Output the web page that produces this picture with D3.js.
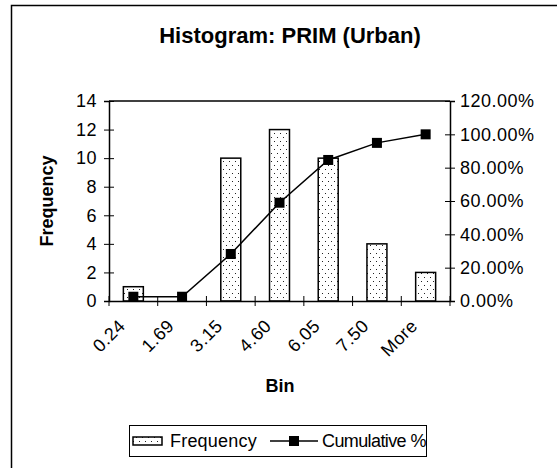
<!DOCTYPE html>
<html>
<head>
<meta charset="utf-8">
<script src="https://cdn.jsdelivr.net/npm/d3@7"></script>
<style>
  body { margin: 0; background: #fff; }
  text { font-family: "Liberation Sans", Arial, sans-serif; fill: #000; }
</style>
</head>
<body>
<div class="grafico"></div>
<script>
// data
const bins = ["0.24", "1.69", "3.15", "4.60", "6.05", "7.50", "More"];
const frequency = [1, 0, 10, 12, 10, 4, 2];
const cumulative = [2.56, 2.56, 28.21, 58.97, 84.62, 94.87, 100.0];
const freqTicks = [0, 2, 4, 6, 8, 10, 12, 14];
const pctTicks = [0, 20, 40, 60, 80, 100, 120];

var width = 557, height = 468;
var plot = { left: 109, right: 450, top: 101, bottom: 301 };
var fs = 18, ls = 0.5;

let svg = d3.select(".grafico")
  .append("svg")
  .attr("width", width)
  .attr("height", height);

// dotted fill like the excel pattern
let pat = svg.append("defs").append("pattern")
  .attr("id", "dots")
  .attr("patternUnits", "userSpaceOnUse")
  .attr("width", 6).attr("height", 8);
pat.append("rect").attr("width", 6).attr("height", 8).attr("fill", "#fff");
pat.append("rect").attr("x", 1).attr("y", 1).attr("width", 1).attr("height", 1).attr("fill", "#222");
pat.append("rect").attr("x", 4).attr("y", 5).attr("width", 1).attr("height", 1).attr("fill", "#222");

// outer frame
svg.append("rect")
  .attr("x", 11.5).attr("y", 5.5)
  .attr("width", 600).attr("height", 600)
  .attr("fill", "none").attr("stroke", "#000").attr("stroke-width", 1.5);

svg.append("text")
  .attr("x", 290).attr("y", 43)
  .attr("text-anchor", "middle")
  .attr("font-size", 22).attr("font-weight", "bold")
  .text("Histogram: PRIM (Urban)");

const x = d3.scaleBand()
  .domain(bins)
  .range([plot.left, plot.right])
  .paddingInner(0.59)
  .paddingOuter(0.295);

const xCat = d3.scaleBand()
  .domain(bins)
  .range([plot.left, plot.right]);

const y = d3.scaleLinear().domain([0, 14]).range([plot.bottom, plot.top]);
const y2 = d3.scaleLinear().domain([0, 120]).range([plot.bottom, plot.top]);

// top border of plot area
svg.append("line")
  .attr("x1", plot.left).attr("x2", plot.right)
  .attr("y1", plot.top).attr("y2", plot.top)
  .attr("stroke", "#000").attr("stroke-width", 1.5);

// bars
svg.selectAll("rect.bar")
  .data(frequency)
  .enter().append("rect")
  .attr("class", "bar")
  .attr("x", (d, i) => x(bins[i]))
  .attr("y", d => y(d))
  .attr("width", x.bandwidth())
  .attr("height", d => y(0) - y(d))
  .attr("fill", "url(#dots)")
  .attr("stroke", "#000")
  .attr("stroke-width", 1.5);

// left axis
let yAxis = svg.append("g")
  .attr("transform", "translate(" + plot.left + ",0)")
  .call(d3.axisLeft(y).tickValues(freqTicks).tickSize(5).tickPadding(7).tickFormat(d3.format("d")));
yAxis.selectAll(".tick line").attr("x2", -5).attr("x1", 5);

// right axis
let y2Axis = svg.append("g")
  .attr("transform", "translate(" + plot.right + ",0)")
  .call(d3.axisRight(y2).tickValues(pctTicks).tickSize(5).tickPadding(5).tickFormat(d => d.toFixed(2) + "%"));
y2Axis.selectAll(".tick line").attr("x1", -5).attr("x2", 5);

// bottom axis, ticks at category edges
let xAxis = svg.append("g")
  .attr("transform", "translate(0," + plot.bottom + ")")
  .call(d3.axisBottom(xCat).tickSize(0).tickFormat(""));
xAxis.selectAll(".tick").remove();
xAxis.selectAll("line.edge")
  .data(bins.concat(["end"]))
  .enter().append("line")
  .attr("class", "edge")
  .attr("x1", (d, i) => plot.left + i * xCat.step())
  .attr("x2", (d, i) => plot.left + i * xCat.step())
  .attr("y1", -5).attr("y2", 5)
  .attr("stroke", "#000");

[yAxis, y2Axis, xAxis].forEach(g => {
  g.selectAll(".domain").attr("stroke", "#000").attr("stroke-width", 1.5);
  g.selectAll("text").attr("font-size", fs).attr("letter-spacing", ls)
    .attr("font-family", "Liberation Sans, Arial, sans-serif");
});

// rotated bin labels
svg.selectAll("text.bin")
  .data(bins)
  .enter().append("text")
  .attr("class", "bin")
  .attr("font-size", fs).attr("letter-spacing", ls)
  .attr("text-anchor", "end")
  .attr("transform", d => "translate(" + (xCat(d) + xCat.bandwidth() / 2 - 7) + ",327) rotate(-45)")
  .text(d => d);

// cumulative line
const line = d3.line()
  .x((d, i) => xCat(bins[i]) + xCat.bandwidth() / 2)
  .y(d => y2(d));

svg.append("path")
  .datum(cumulative)
  .attr("d", line)
  .attr("fill", "none")
  .attr("stroke", "#000")
  .attr("stroke-width", 1.5);

svg.selectAll("rect.mark")
  .data(cumulative)
  .enter().append("rect")
  .attr("class", "mark")
  .attr("x", (d, i) => xCat(bins[i]) + xCat.bandwidth() / 2 - 5)
  .attr("y", d => y2(d) - 5)
  .attr("width", 10).attr("height", 10)
  .attr("fill", "#000");

// axis titles
svg.append("text")
  .attr("transform", "translate(53,201) rotate(-90)")
  .attr("text-anchor", "middle")
  .attr("font-size", 18).attr("font-weight", "bold")
  .text("Frequency");

svg.append("text")
  .attr("x", 280).attr("y", 392)
  .attr("text-anchor", "middle")
  .attr("font-size", 18).attr("font-weight", "bold")
  .text("Bin");

// legend
let legend = svg.append("g");
legend.append("rect")
  .attr("x", 129.5).attr("y", 425.5)
  .attr("width", 297).attr("height", 31)
  .attr("fill", "#fff").attr("stroke", "#000").attr("stroke-width", 1);
legend.append("rect")
  .attr("x", 133).attr("y", 437).attr("width", 29).attr("height", 8)
  .attr("fill", "url(#dots)").attr("stroke", "#000").attr("stroke-width", 1.5);
legend.append("text")
  .attr("x", 170).attr("y", 447).attr("font-size", fs).attr("letter-spacing", 0.2)
  .text("Frequency");
legend.append("line")
  .attr("x1", 270).attr("x2", 318).attr("y1", 441).attr("y2", 441)
  .attr("stroke", "#000").attr("stroke-width", 1.5);
legend.append("rect")
  .attr("x", 289).attr("y", 436).attr("width", 10).attr("height", 10)
  .attr("fill", "#000");
legend.append("text")
  .attr("x", 322).attr("y", 447).attr("font-size", fs)
  .attr("letter-spacing", -0.6)
  .text("Cumulative %");
</script>
</body>
</html>
